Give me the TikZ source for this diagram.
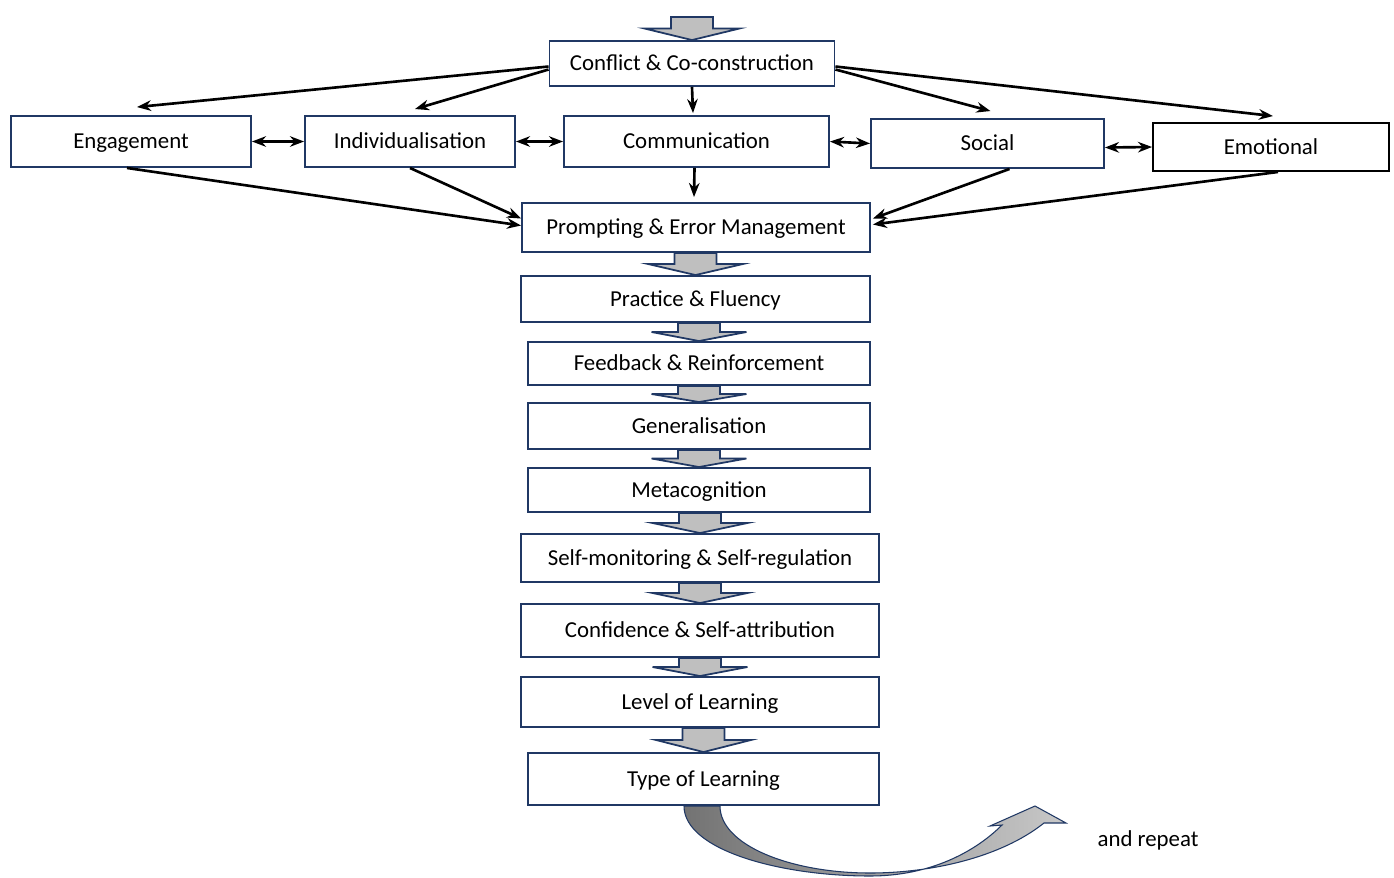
\documentclass[tikz,border=0pt]{standalone}
\usepackage{fontspec}
\setmainfont{Carlito}
\usetikzlibrary{arrows.meta, positioning, calc}
\definecolor{boxblue}{RGB}{32, 56, 100}
\definecolor{arrowgray}{RGB}{191, 191, 191}
\definecolor{curvedark}{RGB}{115, 115, 115}
\definecolor{curvelight}{RGB}{200, 200, 200}

\tikzset{
  stage/.style={draw=boxblue, line width=1.1pt, fill=white, inner sep=0pt,
                text height=9pt, text depth=0.7pt,
                font=\fontsize{13}{15}\selectfont},
  link/.style={-{Stealth[length=8pt, width=6pt]}, line width=1.5pt},
  twoway/.style={{Stealth[length=8pt, width=6pt]}-{Stealth[length=8pt, width=6pt]},
                 line width=1.5pt},
  blockarrow/.style={draw=boxblue, line width=1pt, fill=arrowgray, line join=miter}
}

% wide grey arrow from the bottom of #1 to the top of #2
\newcommand{\flowarrow}[2]{%
  \draw[blockarrow] let \p1=(#1.south), \p2=(#2.north) in
    (\x2-12pt,\y1) -- (\x2-12pt,{(\y1+\y2)/2}) -- (\x2-27pt,{(\y1+\y2)/2})
    -- (\x2,\y2) -- (\x2+27pt,{(\y1+\y2)/2}) -- (\x2+12pt,{(\y1+\y2)/2})
    -- (\x2+12pt,\y1) -- cycle;}

\begin{document}
\begin{tikzpicture}[x=0.02cm, y=-0.02cm]
  \useasboundingbox (0,0) rectangle (1394,877);

  % top row
  \coordinate (entry) at (690,17);
  \node[stage, minimum width=5.70cm, minimum height=0.90cm] (conflict) at (692,63.5)
    {Conflict \& Co-construction};

  % the five factors
  \node[stage, minimum width=4.80cm, minimum height=1.02cm] (engagement) at (131,141.5)
    {Engagement};
  \node[stage, minimum width=4.20cm, minimum height=1.02cm] (individual) at (410,141.5)
    {Individualisation};
  \node[stage, minimum width=5.30cm, minimum height=1.02cm] (communication) at (696.5,141.5)
    {Communication};
  \node[stage, minimum width=4.66cm, minimum height=0.98cm] (social) at (987.5,143.5)
    {Social};
  \node[stage, draw=black, minimum width=4.72cm, minimum height=0.96cm] (emotional) at (1271,147)
    {Emotional};

  % the chain
  \node[stage, minimum width=6.96cm, minimum height=0.98cm] (prompting) at (696,227.5)
    {Prompting \& Error Management};
  \node[stage, minimum width=6.98cm, minimum height=0.92cm] (practice) at (695.5,299)
    {Practice \& Fluency};
  \node[stage, minimum width=6.84cm, minimum height=0.86cm] (feedback) at (699,363.5)
    {Feedback \& Reinforcement};
  \node[stage, minimum width=6.84cm, minimum height=0.92cm] (general) at (699,426)
    {Generalisation};
  \node[stage, minimum width=6.84cm, minimum height=0.88cm] (metacog) at (699,490)
    {Metacognition};
  \node[stage, minimum width=7.16cm, minimum height=0.96cm] (selfmon) at (700,558)
    {Self-monitoring \& Self-regulation};
  \node[stage, minimum width=7.16cm, minimum height=1.06cm] (confidence) at (700,630.5)
    {Confidence \& Self-attribution};
  \node[stage, minimum width=7.16cm, minimum height=1.00cm] (level) at (700,702)
    {Level of Learning};
  \node[stage, minimum width=7.02cm, minimum height=1.04cm] (type) at (703.5,779)
    {Type of Learning};

  \node[font=\fontsize{13}{15}\selectfont] (repeat) at (1148,840) {and repeat};

  % grey block arrows
  \flowarrow{entry}{conflict}
  \flowarrow{prompting}{practice}
  \flowarrow{practice}{feedback}
  \flowarrow{feedback}{general}
  \flowarrow{general}{metacog}
  \flowarrow{metacog}{selfmon}
  \flowarrow{selfmon}{confidence}
  \flowarrow{confidence}{level}
  \flowarrow{level}{type}

  % conflict out to the factors
  \draw[link] ($(conflict.west)+(0,3)$) -- ($(engagement.north)+(6,-8)$);
  \draw[link] ($(conflict.west)+(0,6)$) -- ($(individual.north)+(5,-6)$);
  \draw[link] (conflict.south) -- ($(conflict.south |- communication.north)+(1,-2)$);
  \draw[link] ($(conflict.east)+(0,6)$) -- ($(social.north)+(3,-7)$);
  \draw[link] ($(conflict.east)+(0,3)$) -- ($(emotional.north)+(2,-6)$);

  % links between neighbours
  \draw[twoway] (engagement.east) -- (individual.west);
  \draw[twoway] (individual.east) -- (communication.west);
  \draw[twoway] (communication.east) -- (social.west);
  \draw[twoway] ($(social.east)+(0,4)$) -- (emotional.west);

  % factors into prompting
  \draw[link] ($(engagement.south)+(-4,0)$) -- ($(prompting.west)+(0,-2)$);
  \draw[link] (individual.south) -- ($(prompting.west)+(0,-9)$);
  \draw[link] ($(communication.south)+(-2,0)$) -- ($(prompting.north)+(-2,-5)$);
  \draw[link] ($(social.south)+(22,0)$) -- ($(prompting.east)+(2,-9)$);
  \draw[link] ($(emotional.south)+(7,0)$) -- ($(prompting.east)+(2,-3)$);

  % curved return arrow
  \shade[left color=curvedark, right color=curvelight, draw=boxblue, line width=0.6pt]
    (684,806) .. controls (684,850) and (780,876) .. (870,876)
    .. controls (930,876) and (975,852) .. (1002,825)
    -- (990,826) -- (1035,806) -- (1066,823) -- (1044,823)
    .. controls (1000,858) and (930,873) .. (870,873)
    .. controls (790,873) and (720,845) .. (720,806) -- cycle;
\end{tikzpicture}
\end{document}
